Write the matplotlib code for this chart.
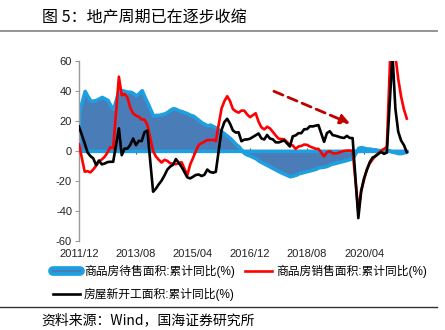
import matplotlib
matplotlib.use('Agg')
import matplotlib.pyplot as plt
from matplotlib.lines import Line2D
import numpy as np
import pandas as pd

plt.rcParams['font.family'] = ['Liberation Sans', 'Noto Sans CJK SC', 'DejaVu Sans']
plt.rcParams['axes.unicode_minus'] = False

# monthly cumulative data, January is not published (Jan-Feb combined)
periods = pd.period_range('2011-12', '2021-07', freq='M')
periods = periods[periods.month != 1]
month_idx = np.array([(p.year - 2011) * 12 + (p.month - 12) for p in periods])

tick_pos = [0, 20, 40, 60, 80, 100]
tick_labels = ['2011/12', '2013/08', '2015/04', '2016/12', '2018/08', '2020/04']

# 商品房待售面积:累计同比(%)
unsold = [26.0,
          40.0, 36.5, 33.5, 33.5, 34.0, 35.0, 36.0, 35.0, 34.0, 30.5, 28.0,
          41.0, 40.5, 40.0, 39.5, 39.5, 38.5, 37.0, 38.5, 40.5, 36.0, 32.0,
          23.5, 24.0, 24.0, 24.5, 25.0, 26.0, 27.5, 28.5, 28.0, 27.0, 26.5,
          25.0, 24.0, 23.5, 22.0, 20.5, 19.0, 18.0, 17.0, 17.5, 16.5, 15.5,
          13.0, 11.5, 10.0, 8.5, 6.5, 4.5, 3.0, 0.5, -1.5, -2.5, -3.2,
          -5.0, -6.5, -7.5, -8.5, -9.5, -10.5, -11.5, -12.5, -13.5, -14.5, -15.3,
          -17.0, -16.5, -16.0, -15.0, -14.5, -14.0, -13.5, -13.0, -12.5, -12.0, -11.0,
          -10.5, -10.0, -9.0, -8.5, -8.0, -7.5, -7.0, -6.5, -6.0, -5.5, -4.5,
          2.0, 2.5, 2.0, 1.5, 1.5, 1.0, 1.0, 0.5, 0.5, 1.0, 0.5,
          -0.5, -1.0, -1.5, -1.5, -1.0, -0.3]

# 商品房销售面积:累计同比(%)
sales = [4.4,
         -13.9, -13.6, -14.4, -12.4, -10.0, -7.0, -5.8, -4.0, -1.1, 2.4, 1.8,
         49.5, 37.1, 38.0, 35.6, 28.7, 25.0, 23.5, 22.7, 21.0, 20.8, 17.3,
         -0.1, -3.8, -6.0, -7.8, -6.0, -6.7, -8.3, -8.6, -8.9, -8.2, -7.6,
         -16.3, -9.2, -4.8, -0.2, 3.9, 5.1, 6.1, 7.2, 7.2, 7.4, 6.5,
         28.2, 33.1, 36.5, 33.2, 27.9, 26.4, 25.5, 26.9, 26.8, 24.3, 22.5,
         25.1, 19.5, 15.7, 14.3, 16.1, 15.0, 12.7, 10.3, 8.2, 7.9, 7.7,
         4.1, 3.6, 1.3, 2.9, 3.3, 4.2, 4.0, 2.9, 2.2, 1.4, 1.3,
         -3.6, -0.9, -0.3, -1.6, -1.8, -1.3, -0.6, -0.1, 0.1, 0.2, -0.1,
         -39.9, -26.3, -19.3, -12.3, -8.4, -5.8, -3.3, -1.8, 0.0, 1.3, 2.6,
         104.9, 63.8, 48.1, 36.3, 27.7, 21.5]

# 房屋新开工面积:累计同比(%)
starts = [16.2,
          5.0, -1.0, -3.5, -5.0, -9.5, -6.5, -9.0, -8.5, -7.5, -7.3, -7.3,
          15.0, -2.9, 1.5, 1.5, 4.0, 8.2, 3.8, 6.7, 6.5, 12.5, 13.5,
          -27.3, -25.2, -22.3, -19.8, -16.4, -12.5, -10.5, -9.3, -5.5, -8.0, -10.7,
          -17.7, -18.4, -17.3, -16.1, -15.8, -16.8, -16.0, -12.5, -14.1, -14.6, -14.0,
          13.7, 19.2, 21.4, 18.1, 13.6, 12.2, 12.4, 6.4, 7.5, 7.6, 8.1,
          10.4, 11.6, 8.3, 7.6, 10.6, 8.2, 7.7, 5.7, 5.6, 6.3, 7.0,
          2.9, 9.7, 10.3, 11.8, 11.8, 14.4, 14.5, 16.4, 16.3, 16.8, 17.2,
          6.0, 11.9, 13.1, 10.5, 10.1, 9.5, 8.9, 8.6, 10.0, 8.6, 8.5,
          -44.9, -27.2, -18.4, -12.8, -7.6, -4.5, -3.6, -2.1, -0.7, -2.0, -1.2,
          64.3, 28.2, 12.8, 6.9, 3.8, -0.9]

blue_edge = '#1E9FE0'
blue_fill = '#4A7CB8'

fig = plt.figure(figsize=(4.45, 3.3), dpi=100)
ax = fig.add_axes([0.1775, 0.2706, 0.7430, 0.5446])

ax.fill_between(month_idx, 0, unsold, facecolor=blue_fill, edgecolor=blue_edge,
                linewidth=2.6, zorder=2)
ax.plot(month_idx, sales, color='#FF0000', lw=1.9, zorder=3)
ax.plot(month_idx, starts, color='black', lw=1.9, zorder=4)

# dashed arrow showing the downtrend
ax.annotate('', xy=(96.0, 17.5), xytext=(67.5, 40.5),
            arrowprops=dict(arrowstyle='-|>', color='#C00000', lw=2,
                            linestyle=(0, (3.5, 2)), mutation_scale=14),
            zorder=5)

ax.set_xlim(0, 116)
ax.set_ylim(-60, 60)
ax.set_yticks(np.arange(-60, 61, 20))
ax.set_xticks(tick_pos)
ax.set_xticklabels(tick_labels)
ax.tick_params(axis='x', length=0, pad=6, labelsize=8, colors='#222222')
ax.tick_params(axis='y', length=3, pad=2, labelsize=8, colors='#222222')
ax.tick_params(axis='y', color='#999999')
for side in ['top', 'right', 'bottom']:
    ax.spines[side].set_visible(False)
ax.spines['left'].set_color('#999999')
ax.spines['left'].set_linewidth(1)

# small tick marks on the zero line
sec = ax.secondary_xaxis(0.5)
sec.set_xticks(tick_pos)
sec.tick_params(axis='x', length=4, direction='inout', labelbottom=False,
                labeltop=False, color='#555555', width=0.8)
for sp in sec.spines.values():
    sp.set_visible(False)

# legend
h_unsold = (Line2D([], [], color=blue_edge, lw=7, solid_capstyle='round'),
            Line2D([], [], color=blue_fill, lw=1.5))
h_sales = Line2D([], [], color='#FF0000', lw=1.9)
h_starts = Line2D([], [], color='black', lw=1.9)
fig.legend([h_unsold, h_starts, h_sales],
           ['商品房待售面积:累计同比(%)', '房屋新开工面积:累计同比(%)',
            '商品房销售面积:累计同比(%)'],
           ncol=2, loc='upper left', bbox_to_anchor=(0.118, 0.197),
           frameon=False, fontsize=8.5, handlelength=2.3, handletextpad=0.35,
           columnspacing=0.9, labelspacing=0.85, borderpad=0, borderaxespad=0)

# title, rules and source
fig.text(0.094, 0.945, '图 5：地产周期已在逐步收缩', fontsize=11.5,
         family=['Noto Sans CJK SC'], va='center', ha='left')
fig.add_artist(Line2D([0, 0.982], [0.906, 0.906], color='#8C8C8C', lw=1.3))
fig.add_artist(Line2D([0, 0.982], [0.071, 0.071], color='#333333', lw=1.0))
fig.text(0.094, 0.030, '资料来源：Wind，国海证券研究所', fontsize=10,
         family=['Noto Sans CJK SC', 'DejaVu Sans'], va='center', ha='left')

fig.savefig('out.png', dpi=100)
